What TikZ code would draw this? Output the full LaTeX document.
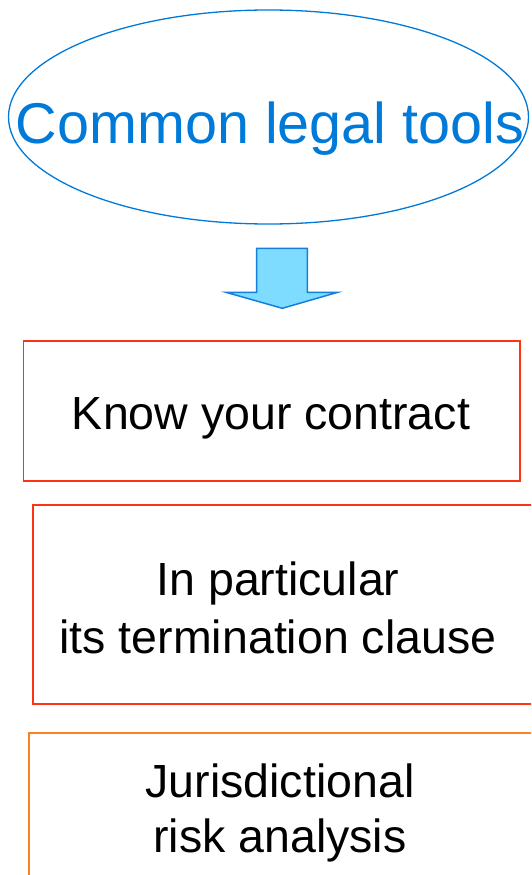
\documentclass[tikz,border=0pt]{standalone}
\usepackage{fontspec}
\setmainfont{Liberation Sans}
\usetikzlibrary{shapes.geometric}
\definecolor{titleblue}{RGB}{0,122,217}
\definecolor{arrowfill}{RGB}{125,220,255}
\definecolor{arrowline}{RGB}{20,128,220}
\definecolor{boxred}{RGB}{250,52,20}
\definecolor{boxorange}{RGB}{255,130,30}
\tikzset{
  bigtext/.style={font=\fontsize{57.5}{66}\selectfont, text=titleblue, anchor=base, inner sep=0pt},
  boxtext/.style={font=\fontsize{46.5}{56}\selectfont, text=black, anchor=base, inner sep=0pt},
  toolbox/.style={draw, line width=1.5pt, inner sep=0pt, anchor=north west},
}
\begin{document}
\begin{tikzpicture}[x=1pt,y=-1pt]
  \clip (0,0) rectangle (531,875);
  \fill[white] (0,0) rectangle (531,875);

  % heading ellipse
  \node (head) [draw=titleblue, line width=1.3pt, ellipse, minimum width=520pt, minimum height=214pt, inner sep=0pt] at (268.5,117) {};
  \node (headtext) [bigtext] at (270,143) {Common legal tools};

  % block arrow pointing down
  \draw[arrowline, fill=arrowfill, line width=1.5pt, line join=miter]
    (256.7,248.3) -- (307.3,248.3) -- (307.3,292.3) -- (337.7,292.3)
    -- (282.3,308.3) -- (226,292.3) -- (256.7,292.3) -- cycle;

  % boxes
  \node (box1) [toolbox, draw=boxred, minimum width=496.3pt, minimum height=140pt] at (22.7,340) {};
  \node (t1) [boxtext] at (271,429) {Know your contract};

  \node (box2) [toolbox, draw=boxred, minimum width=520pt, minimum height=199pt] at (32,504) {};
  \node (t2a) [boxtext] at (278,595) {In particular};
  \node (t2b) [boxtext] at (278,653) {its termination clause};

  \node (box3) [toolbox, draw=boxorange, minimum width=520pt, minimum height=200pt] at (28,732) {};
  \node (t3a) [boxtext] at (280,797) {Jurisdictional};
  \node (t3b) [boxtext] at (280,852) {risk analysis};
\end{tikzpicture}
\end{document}
